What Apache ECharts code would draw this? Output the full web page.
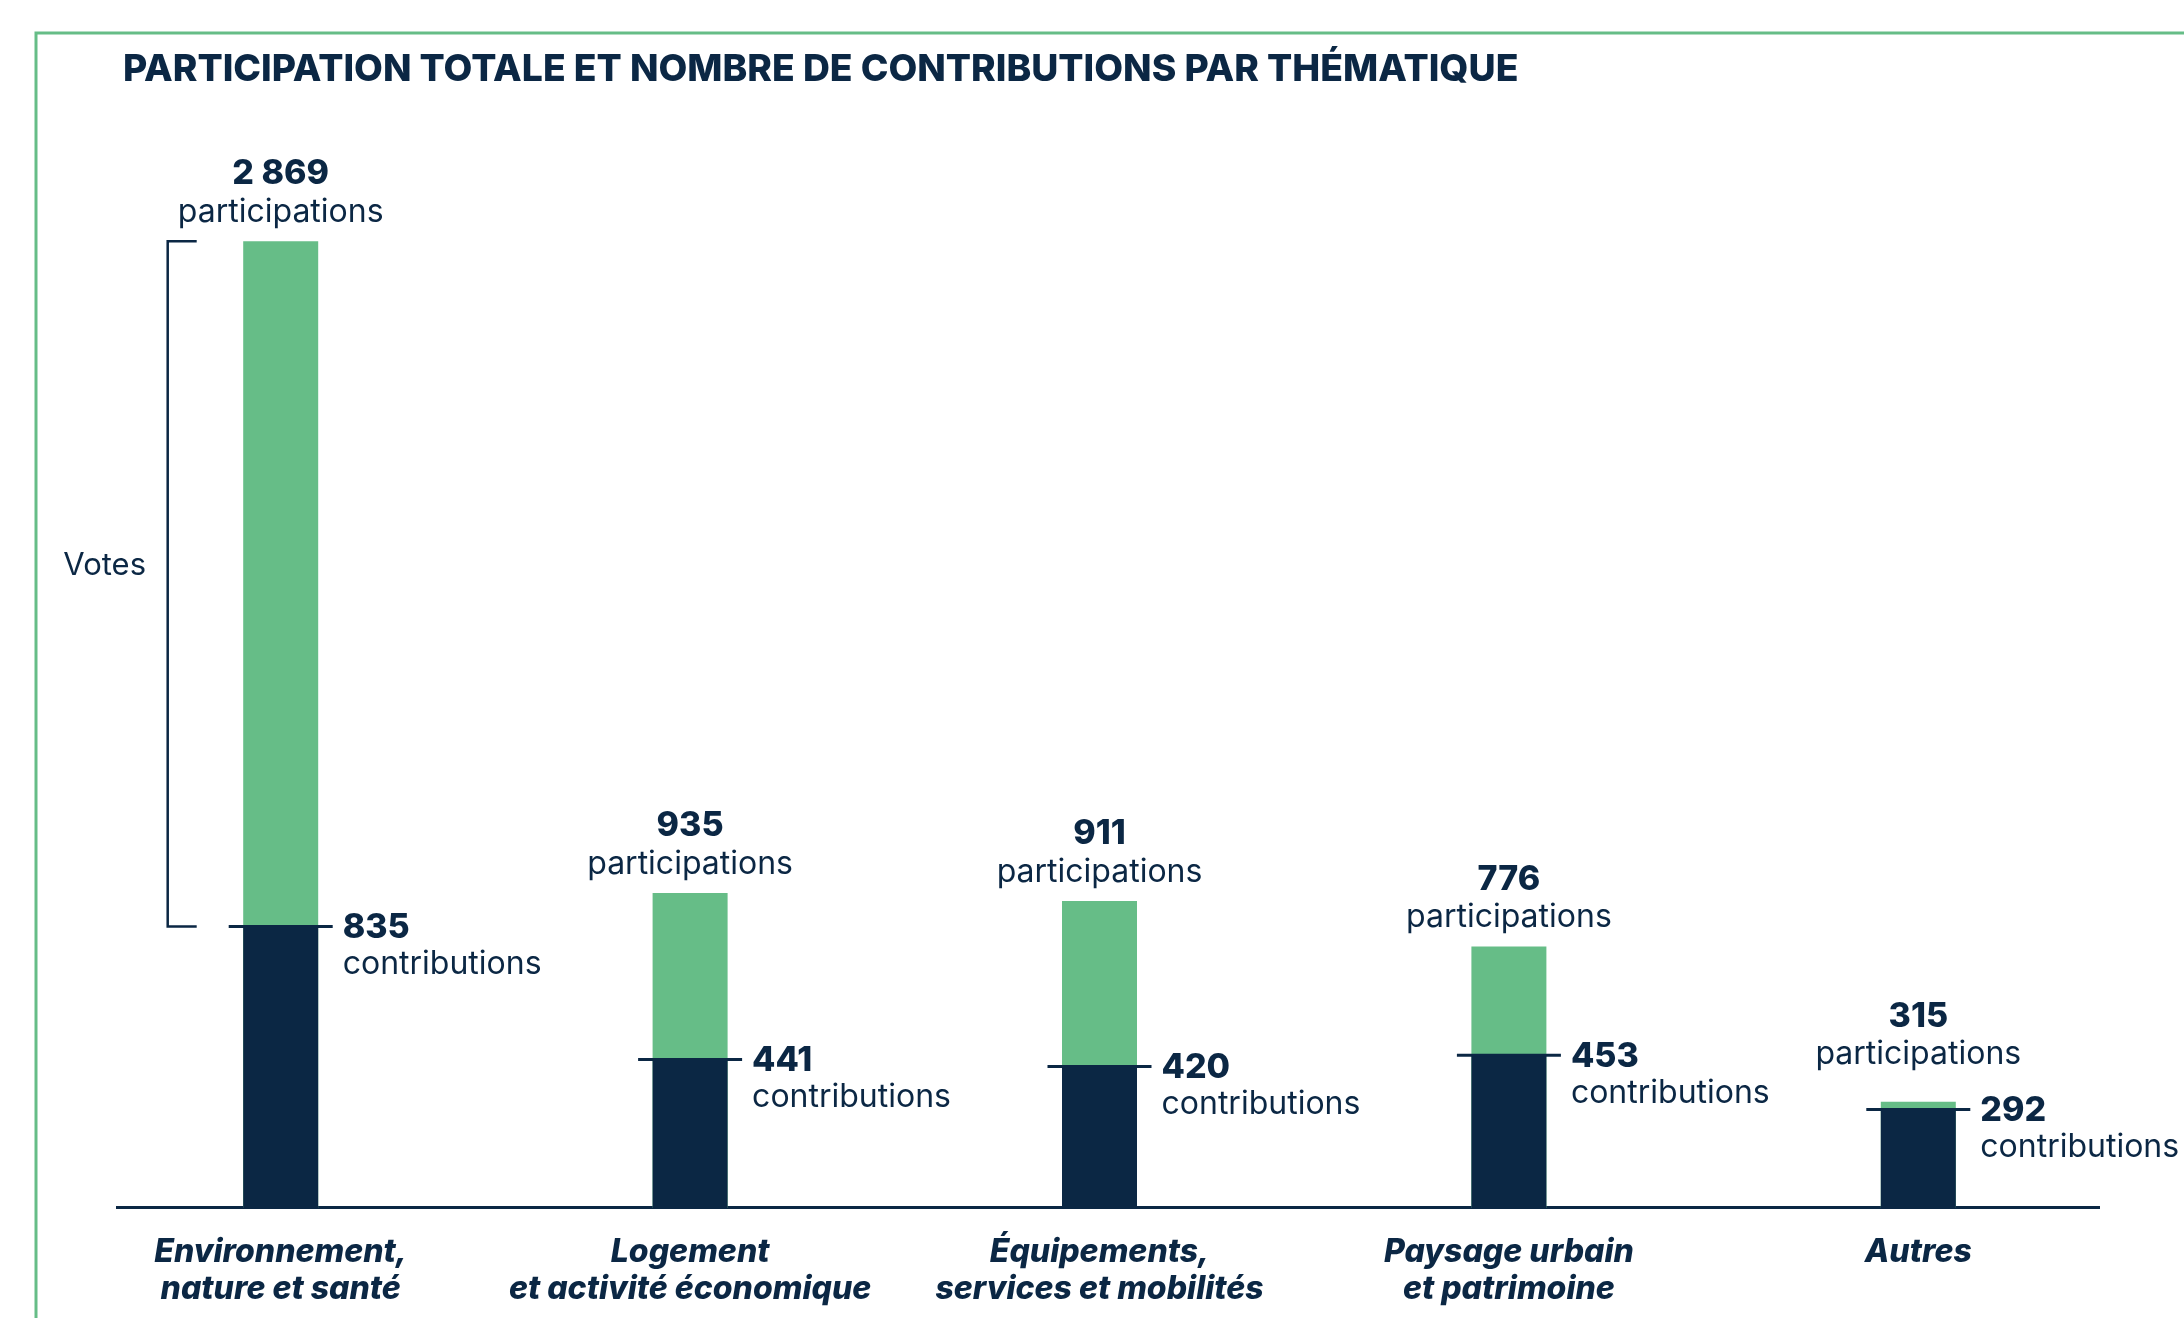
<!DOCTYPE html>
<html>
<head>
<meta charset="utf-8">
<script src="https://cdn.jsdelivr.net/npm/echarts@6/dist/echarts.min.js"></script>
<style>
html,body{margin:0;padding:0;background:#fff;}
#chart{width:2184px;height:1318px;}
</style>
</head>
<body>
<div id="chart"></div>
<script>
const titleText = 'PARTICIPATION TOTALE ET NOMBRE DE CONTRIBUTIONS PAR THÉMATIQUE';
const categories = ['Environnement,\nnature et santé', 'Logement\net activité économique', 'Équipements,\nservices et mobilités', 'Paysage urbain\net patrimoine', 'Autres'];
const participations = [2869, 935, 911, 776, 315];
const contributions = [835, 441, 420, 453, 292];
const bracketLabel = 'Votes';
const participationsWord = 'participations';
const contributionsWord = 'contributions';

const NAVY = '#0B2744';
const GREEN = '#66BD87';
const FONT = 'Inter, "Open Sans", sans-serif';

function fmt(v){ return String(v).replace(/\B(?=(\d{3})+(?!\d))/g, ' '); }

const chart = echarts.init(document.getElementById('chart'));
const option = {
  backgroundColor: '#fff',
  animation: false,
  title: {
    text: titleText,
    left: 118, top: 46,
    textStyle: { color: NAVY, fontFamily: FONT, fontWeight: 800, fontSize: 37.3 }
  },
  grid: { left: 76, right: 61, top: 197, bottom: 110 },
  xAxis: {
    type: 'category',
    data: categories,
    axisLine: { show: false },
    axisTick: { show: false },
    axisLabel: {
      interval: 0,
      margin: 26,
      color: NAVY,
      fontFamily: FONT,
      fontWeight: 800,
      fontStyle: 'italic',
      fontSize: 32,
      lineHeight: 37
    }
  },
  yAxis: { type: 'value', min: 0, max: 3000, show: false, splitLine: { show: false } },
  graphic: [
    { type: 'rect', shape: { x: 36, y: 33, width: 2400, height: 1500 }, style: { fill: null, stroke: GREEN, lineWidth: 3 }, z: 0 },
    { type: 'line', shape: { x1: 116, y1: 1207.5, x2: 2100, y2: 1207.5 }, style: { stroke: NAVY, lineWidth: 3 }, z: 1 }
  ],
  series: [
    {
      type: 'bar',
      data: participations.map((v, i) => i === participations.length - 1 ? { value: v, label: { distance: 28 } } : v),
      barWidth: 75,
      barGap: '-100%',
      itemStyle: { color: GREEN },
      z: 2,
      label: {
        show: true,
        position: 'top',
        distance: 10,
        formatter: p => '{n|' + fmt(p.value) + '}\n{p|' + participationsWord + '}',
        rich: {
          n: { color: NAVY, fontFamily: FONT, fontWeight: 800, fontSize: 34, lineHeight: 38, align: 'center' },
          p: { color: NAVY, fontFamily: FONT, fontWeight: 400, fontSize: 32, lineHeight: 38, align: 'center' }
        }
      }
    },
    {
      type: 'bar',
      data: contributions,
      barWidth: 75,
      itemStyle: { color: NAVY },
      z: 3
    },
    {
      type: 'custom',
      data: contributions.map((c, i) => [i, c, participations[i]]),
      clip: false,
      z: 5,
      renderItem: function (params, api) {
        const i = api.value(0), c = api.value(1), p = api.value(2);
        const pt = api.coord([i, c]);
        const x = pt[0], y = pt[1];
        const children = [
          { type: 'line', shape: { x1: x - 52, y1: y, x2: x + 52, y2: y }, style: { stroke: NAVY, lineWidth: 3 } },
          { type: 'text', style: { text: fmt(c), x: x + 62, y: y + 1, fill: NAVY, font: '800 34px ' + FONT, textAlign: 'left', textVerticalAlign: 'middle' } },
          { type: 'text', style: { text: contributionsWord, x: x + 62, y: y + 38, fill: NAVY, font: '400 32px ' + FONT, textAlign: 'left', textVerticalAlign: 'middle' } }
        ];
        if (params.dataIndex === 0) {
          const top = api.coord([i, p])[1];
          children.push({
            type: 'polyline',
            shape: { points: [[x - 84, top], [x - 113, top], [x - 113, y], [x - 84, y]] },
            style: { stroke: NAVY, lineWidth: 2.5, fill: null }
          });
          children.push({
            type: 'text',
            style: { text: bracketLabel, x: x - 176, y: top + (y - top) * 0.474, fill: NAVY, font: '400 31px ' + FONT, textAlign: 'center', textVerticalAlign: 'middle' }
          });
        }
        return { type: 'group', children: children };
      }
    }
  ]
};
chart.setOption(option);
</script>
</body>
</html>
